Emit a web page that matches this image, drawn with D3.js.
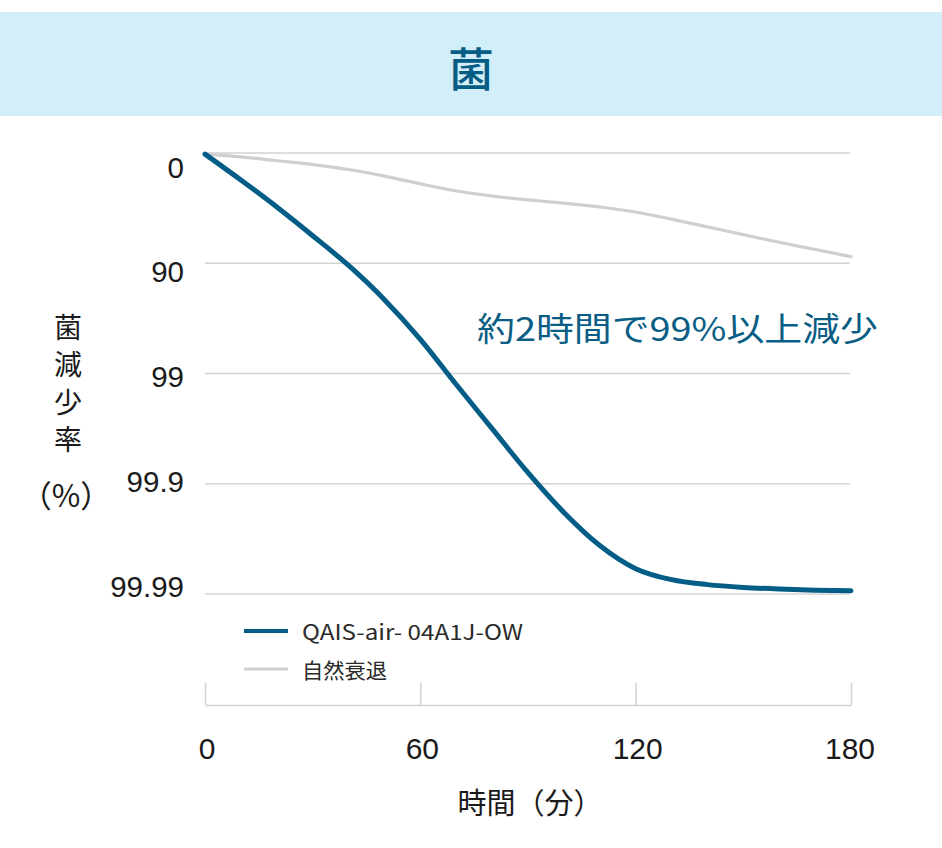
<!DOCTYPE html>
<html><head><meta charset="utf-8">
<script src="https://cdn.jsdelivr.net/npm/d3@7"></script>
<style>
html,body{margin:0;padding:0;background:#fff;}
svg{display:block;}
</style></head>
<body>
<svg id="chart" width="942" height="848"></svg>
<script>
// ---- data ----
const times = [0,10,20,30,40,50,60,70,80,90,100,110,120,130,140,150,160,170,180];
// log10 reduction (0 = 0%, 1 = 90%, 2 = 99%, 3 = 99.9%, 4 = 99.99%)
const qaisValues = [0.01,0.245,0.49,0.75,1.02,1.33,1.69,2.10,2.50,2.90,3.26,3.56,3.77,3.87,3.915,3.94,3.955,3.965,3.97];
const naturalValues = [0.01,0.035,0.07,0.105,0.15,0.21,0.28,0.345,0.39,0.425,0.455,0.49,0.535,0.60,0.67,0.74,0.81,0.875,0.94];
const yTickValues = [0,1,2,3,4];
const yTickLabels = ["0","90","99","99.9","99.99"];
const xTickValues = [0,60,120,180];
const seriesNames = ["QAIS-air- 04A1J-OW","自然衰退"];
const titleText = "菌";
const annotationText = "約2時間で99%以上減少";
const yTitleText = "菌減少率";
const yTitleUnit = "（%）";
const xTitleText = "時間（分）";

const blue = "#035d86";
const gray = "#cfcfcf";
const grid = "#d3d3d3";
const cjk = "'Noto Sans CJK JP','Noto Sans',sans-serif";
const latin = "'Liberation Sans',Arial,sans-serif";

const svg = d3.select("#chart");

// header band
svg.append("rect").attr("x",0).attr("y",12).attr("width",942).attr("height",104).attr("fill","#d2eef8");
svg.append("text").attr("x",471).attr("y",66).attr("text-anchor","middle").attr("dominant-baseline","central")
  .attr("font-family",cjk).attr("font-size",46).attr("font-weight",500).attr("fill","#065c84").text(titleText);

const x = d3.scaleLinear().domain([0,180]).range([205,851]);
const y = d3.scaleLinear().domain([0,4]).range([153,594]);
const yLabel = d3.scaleLinear().domain([0,4]).range([167,586]);

// gridlines
svg.append("g").selectAll("line").data(yTickValues).join("line")
  .attr("x1",x(0)).attr("x2",850).attr("y1",d=>y(d)).attr("y2",d=>y(d))
  .attr("stroke",grid).attr("stroke-width",1.6);

// y labels
svg.append("g").selectAll("text").data(yTickValues).join("text")
  .attr("x",184).attr("y",d=>yLabel(d)).attr("text-anchor","end").attr("dominant-baseline","central")
  .attr("font-family",latin).attr("font-size",29.5).attr("fill","#1a1a1a").text((d,i)=>yTickLabels[i]);

// y title (vertical)
svg.append("text").attr("x",68).attr("y",313)
  .style("writing-mode","vertical-rl").style("letter-spacing","9.5px")
  .attr("font-family",cjk).attr("font-size",28).attr("fill","#1a1a1a").text(yTitleText);
svg.append("text").attr("x",66).attr("y",493).attr("text-anchor","middle").attr("dominant-baseline","central")
  .attr("font-family",cjk).attr("font-size",31).attr("fill","#1a1a1a").text(yTitleUnit);

// lines
const line = d3.line().x((d,i)=>x(times[i])).y(d=>y(d)).curve(d3.curveMonotoneX);
svg.append("path").attr("d",line(naturalValues)).attr("fill","none").attr("stroke",gray)
  .attr("stroke-width",3.2).attr("stroke-linecap","round");
svg.append("path").attr("d",line(qaisValues)).attr("fill","none").attr("stroke",blue)
  .attr("stroke-width",5).attr("stroke-linecap","round").attr("stroke-linejoin","round");

// annotation
svg.append("text").attr("x",477).attr("y",327).attr("dominant-baseline","central")
  .attr("font-family",cjk).attr("font-size",33).attr("fill","#0a5d84")
  .attr("textLength",401).attr("lengthAdjust","spacingAndGlyphs").text(annotationText);

// legend
const legColors = [blue, gray];
const legY = [631,669];
const leg = svg.append("g");
leg.selectAll("line").data(seriesNames).join("line")
  .attr("x1",244).attr("x2",288).attr("y1",(d,i)=>legY[i]).attr("y2",(d,i)=>legY[i])
  .attr("stroke",(d,i)=>legColors[i]).attr("stroke-width",(d,i)=>i===0?4:3.2);
leg.selectAll("text").data(seriesNames).join("text")
  .attr("x",302).attr("y",(d,i)=>legY[i]).attr("dominant-baseline","central")
  .attr("font-family",cjk).attr("font-size",21).attr("fill","#2a2a2a")
  .attr("textLength",(d,i)=>i===0?221:85).attr("lengthAdjust","spacingAndGlyphs").text(d=>d);

// x axis
const xAxis = d3.axisTop(x).tickValues(xTickValues).tickSize(22).tickSizeOuter(0).tickFormat("");
const gx = svg.append("g").attr("transform","translate(0,705)").call(xAxis);
gx.select(".domain").attr("stroke",grid).attr("stroke-width",1.6);
gx.selectAll(".tick line").attr("stroke",grid).attr("stroke-width",1.6);

svg.append("g").selectAll("text").data(xTickValues).join("text")
  .attr("x",d=>x(d)+(d===0?2:(d===180?-1:2))).attr("y",748).attr("text-anchor","middle").attr("dominant-baseline","central")
  .attr("font-family",latin).attr("font-size",30).attr("fill","#1a1a1a").text(d=>d);

svg.append("text").attr("x",530).attr("y",801).attr("text-anchor","middle").attr("dominant-baseline","central")
  .attr("font-family",cjk).attr("font-size",29).attr("fill","#1a1a1a")
  .attr("textLength",145).attr("lengthAdjust","spacingAndGlyphs").text(xTitleText);
</script>
</body></html>
